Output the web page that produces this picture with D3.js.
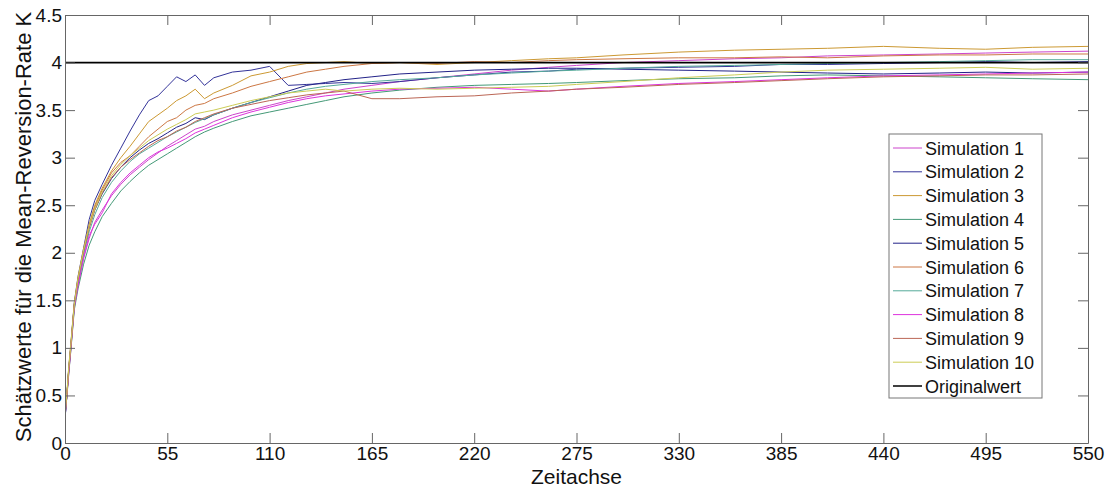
<!DOCTYPE html>
<html>
<head>
<meta charset="utf-8">
<script src="https://cdn.jsdelivr.net/npm/d3@7"></script>
<style>
  body { margin: 0; background: #fff; }
  svg { display: block; font-family: "Liberation Sans", Arial, sans-serif; }
</style>
</head>
<body>
<div id="viz"></div>
<script>
var width = 1105, height = 491;
var margin = {top: 15, right: 17, bottom: 48, left: 65};

var zeit = [0, 1, 2, 3, 5, 7, 10, 13, 16, 20, 25, 30, 35, 40, 45, 50, 55, 60, 65, 70, 75, 80, 90, 100, 110, 120, 130, 140, 150, 165, 180, 200, 220, 240, 260, 275, 300, 330, 360, 385, 410, 440, 470, 495, 520, 550];

var sim1 = [0.28, 0.5, 0.74, 0.95, 1.42, 1.66, 1.94, 2.15, 2.32, 2.45, 2.6, 2.72, 2.82, 2.9, 2.98, 3.05, 3.12, 3.18, 3.24, 3.3, 3.33, 3.38, 3.45, 3.5, 3.55, 3.6, 3.64, 3.68, 3.72, 3.76, 3.8, 3.84, 3.88, 3.92, 3.95, 3.97, 4.0, 4.02, 4.04, 4.05, 4.07, 4.08, 4.09, 4.1, 4.11, 4.12];
var sim2 = [0.25, 0.5, 0.78, 1.0, 1.48, 1.75, 2.05, 2.35, 2.55, 2.72, 2.92, 3.1, 3.28, 3.45, 3.6, 3.65, 3.75, 3.85, 3.8, 3.87, 3.76, 3.84, 3.9, 3.92, 3.96, 3.76, 3.77, 3.78, 3.79, 3.78, 3.8, 3.84, 3.87, 3.9, 3.91, 3.93, 3.94, 3.95, 3.96, 3.98, 3.98, 3.99, 4.0, 4.01, 4.0, 4.01];
var sim3 = [0.3, 0.52, 0.8, 1.02, 1.47, 1.74, 2.04, 2.3, 2.5, 2.68, 2.86, 3.0, 3.12, 3.25, 3.38, 3.45, 3.52, 3.6, 3.65, 3.72, 3.62, 3.68, 3.76, 3.86, 3.9, 3.96, 3.99, 4.0, 4.01, 3.99, 4.0, 3.98, 4.0, 4.02, 4.04, 4.05, 4.08, 4.11, 4.13, 4.14, 4.15, 4.17, 4.15, 4.14, 4.16, 4.17];
var sim4 = [0.3, 0.48, 0.72, 0.94, 1.4, 1.62, 1.88, 2.08, 2.22, 2.38, 2.52, 2.65, 2.75, 2.84, 2.92, 2.98, 3.04, 3.1, 3.16, 3.22, 3.27, 3.31, 3.38, 3.44, 3.48, 3.52, 3.56, 3.6, 3.64, 3.68, 3.71, 3.74, 3.76, 3.77, 3.78, 3.79, 3.81, 3.83, 3.84, 3.86, 3.87, 3.86, 3.85, 3.84, 3.83, 3.82];
var sim5 = [0.25, 0.5, 0.77, 0.98, 1.45, 1.7, 2.0, 2.27, 2.45, 2.62, 2.78, 2.9, 3.0, 3.08, 3.15, 3.2, 3.26, 3.32, 3.36, 3.42, 3.4, 3.45, 3.52, 3.58, 3.64, 3.7, 3.76, 3.79, 3.82, 3.85, 3.88, 3.9, 3.92, 3.93, 3.94, 3.94, 3.93, 3.92, 3.91, 3.9, 3.89, 3.88, 3.89, 3.9, 3.89, 3.9];
var sim6 = [0.28, 0.5, 0.76, 0.98, 1.45, 1.72, 2.02, 2.28, 2.48, 2.66, 2.84, 2.95, 3.02, 3.12, 3.22, 3.3, 3.38, 3.42, 3.5, 3.55, 3.57, 3.62, 3.68, 3.75, 3.8, 3.85, 3.9, 3.93, 3.96, 3.99, 4.0, 3.99, 4.01, 4.0, 4.02, 4.03, 4.04, 4.05, 4.05, 4.06, 4.05, 4.07, 4.08, 4.08, 4.09, 4.09];
var sim7 = [0.26, 0.5, 0.76, 0.97, 1.44, 1.69, 1.98, 2.22, 2.4, 2.58, 2.74, 2.86, 2.96, 3.04, 3.1, 3.16, 3.22, 3.27, 3.32, 3.37, 3.41, 3.45, 3.52, 3.58, 3.63, 3.68, 3.72, 3.75, 3.77, 3.8, 3.82, 3.84, 3.87, 3.89, 3.91, 3.92, 3.94, 3.96, 3.97, 3.98, 3.99, 4.0, 4.01, 4.02, 4.03, 4.03];
var sim8 = [0.27, 0.49, 0.73, 0.96, 1.43, 1.65, 1.95, 2.18, 2.3, 2.42, 2.62, 2.74, 2.84, 2.92, 3.0, 3.06, 3.1, 3.15, 3.2, 3.26, 3.3, 3.34, 3.42, 3.48, 3.53, 3.58, 3.62, 3.65, 3.67, 3.7, 3.72, 3.73, 3.74, 3.72, 3.7, 3.72, 3.75, 3.78, 3.8, 3.82, 3.84, 3.86, 3.87, 3.88, 3.89, 3.9];
var sim9 = [0.3, 0.5, 0.77, 0.99, 1.46, 1.72, 2.02, 2.26, 2.45, 2.63, 2.79, 2.9, 2.98, 3.05, 3.12, 3.18, 3.22, 3.28, 3.32, 3.38, 3.42, 3.46, 3.52, 3.56, 3.6, 3.63, 3.66, 3.68, 3.7, 3.62, 3.62, 3.64, 3.65, 3.68, 3.7, 3.72, 3.74, 3.77, 3.79, 3.81, 3.83, 3.85, 3.86, 3.87, 3.87, 3.88];
var sim10 = [0.3, 0.52, 0.79, 1.0, 1.46, 1.73, 2.03, 2.28, 2.46, 2.64, 2.81, 2.93, 3.02, 3.1, 3.18, 3.24, 3.3, 3.35, 3.4, 3.46, 3.48, 3.5, 3.55, 3.6, 3.64, 3.68, 3.7, 3.72, 3.7, 3.72, 3.73, 3.72, 3.73, 3.74, 3.75, 3.77, 3.8, 3.84, 3.87, 3.9, 3.92, 3.93, 3.94, 3.95, 3.93, 3.94];

var originalZeit = [0, 550];
var originalWert = [4, 4];

var namen = ["Simulation 1", "Simulation 2", "Simulation 3", "Simulation 4", "Simulation 5",
             "Simulation 6", "Simulation 7", "Simulation 8", "Simulation 9", "Simulation 10"];
var farben = ["#cc44cc", "#333399", "#cc9933", "#449977", "#222288",
              "#cc7744", "#55aa99", "#dd33dd", "#bb6655", "#cccc55"];

var xTicks = [0, 55, 110, 165, 220, 275, 330, 385, 440, 495, 550];
var yTicks = [0, 0.5, 1, 1.5, 2, 2.5, 3, 3.5, 4, 4.5];

var simulationen = [sim1, sim2, sim3, sim4, sim5, sim6, sim7, sim8, sim9, sim10];

var w = width - margin.left - margin.right,
    h = height - margin.top - margin.bottom;

var x = d3.scaleLinear().domain([0, 550]).range([0, w]);
var y = d3.scaleLinear().domain([0, 4.5]).range([h, 0]);

var svg = d3.select("#viz").append("svg")
    .attr("width", width)
    .attr("height", height);

var g = svg.append("g")
    .attr("transform", "translate(" + margin.left + "," + margin.top + ")");

g.append("clipPath").attr("id", "clip")
  .append("rect").attr("width", w).attr("height", h);

var line = d3.line()
    .x(function(d) { return x(d[0]); })
    .y(function(d) { return y(d[1]); });

var kurven = g.append("g").attr("clip-path", "url(#clip)");

simulationen.forEach(function(s, i) {
  kurven.append("path")
    .datum(zeit.map(function(t, j) { return [t, s[j]]; }))
    .attr("fill", "none")
    .attr("stroke", farben[i])
    .attr("stroke-width", 1)
    .attr("d", line);
});

kurven.append("path")
  .datum(originalZeit.map(function(t, j) { return [t, originalWert[j]]; }))
  .attr("fill", "none")
  .attr("stroke", "#000")
  .attr("stroke-width", 1.8)
  .attr("d", line);

// Achsen im MATLAB-Stil: Ticks nach innen, Rahmen rundum
var fmt = function(d) { return String(d); };

var axB = g.append("g").attr("transform", "translate(0," + h + ")")
    .call(d3.axisBottom(x).tickValues(xTicks).tickFormat(fmt).tickSizeInner(-10).tickSizeOuter(0).tickPadding(4));
var axL = g.append("g")
    .call(d3.axisLeft(y).tickValues(yTicks).tickFormat(fmt).tickSizeInner(-10).tickSizeOuter(0).tickPadding(3));
var axT = g.append("g")
    .call(d3.axisTop(x).tickValues(xTicks).tickFormat("").tickSizeInner(-10).tickSizeOuter(0));
var axR = g.append("g").attr("transform", "translate(" + w + ",0)")
    .call(d3.axisRight(y).tickValues(yTicks).tickFormat("").tickSizeInner(-10).tickSizeOuter(0));

[axB, axL, axT, axR].forEach(function(a) {
  a.selectAll(".domain").attr("stroke", "#666");
  a.selectAll(".tick line").attr("stroke", "#666");
  a.selectAll("text").attr("font-size", 19).attr("fill", "#111")
    .attr("font-family", "'Liberation Sans', Arial, sans-serif");
});

svg.append("text")
  .attr("x", margin.left + w / 2)
  .attr("y", 484)
  .attr("text-anchor", "middle")
  .attr("font-size", 21)
  .attr("fill", "#111")
  .text("Zeitachse");

svg.append("text")
  .attr("transform", "translate(31," + (margin.top + h / 2 - 2) + ") rotate(-90)")
  .attr("text-anchor", "middle")
  .attr("font-size", 22)
  .attr("fill", "#111")
  .text("Schätzwerte für die Mean-Reversion-Rate K");

// Legende
var legNamen = namen.concat(["Originalwert"]);
var legFarben = farben.concat(["#000"]);
var leg = svg.append("g").attr("transform", "translate(889,134)");
leg.append("rect")
  .attr("width", 153).attr("height", 264)
  .attr("fill", "#fff").attr("stroke", "#777");

legNamen.forEach(function(n, i) {
  var cy = 14 + i * 23.8;
  leg.append("line")
    .attr("x1", 4).attr("x2", 33).attr("y1", cy).attr("y2", cy)
    .attr("stroke", legFarben[i]).attr("stroke-width", i == 10 ? 1.5 : 1);
  leg.append("text")
    .attr("x", 36).attr("y", cy + 6.5)
    .attr("font-size", 18).attr("fill", "#111")
    .text(n);
});
</script>
</body>
</html>
